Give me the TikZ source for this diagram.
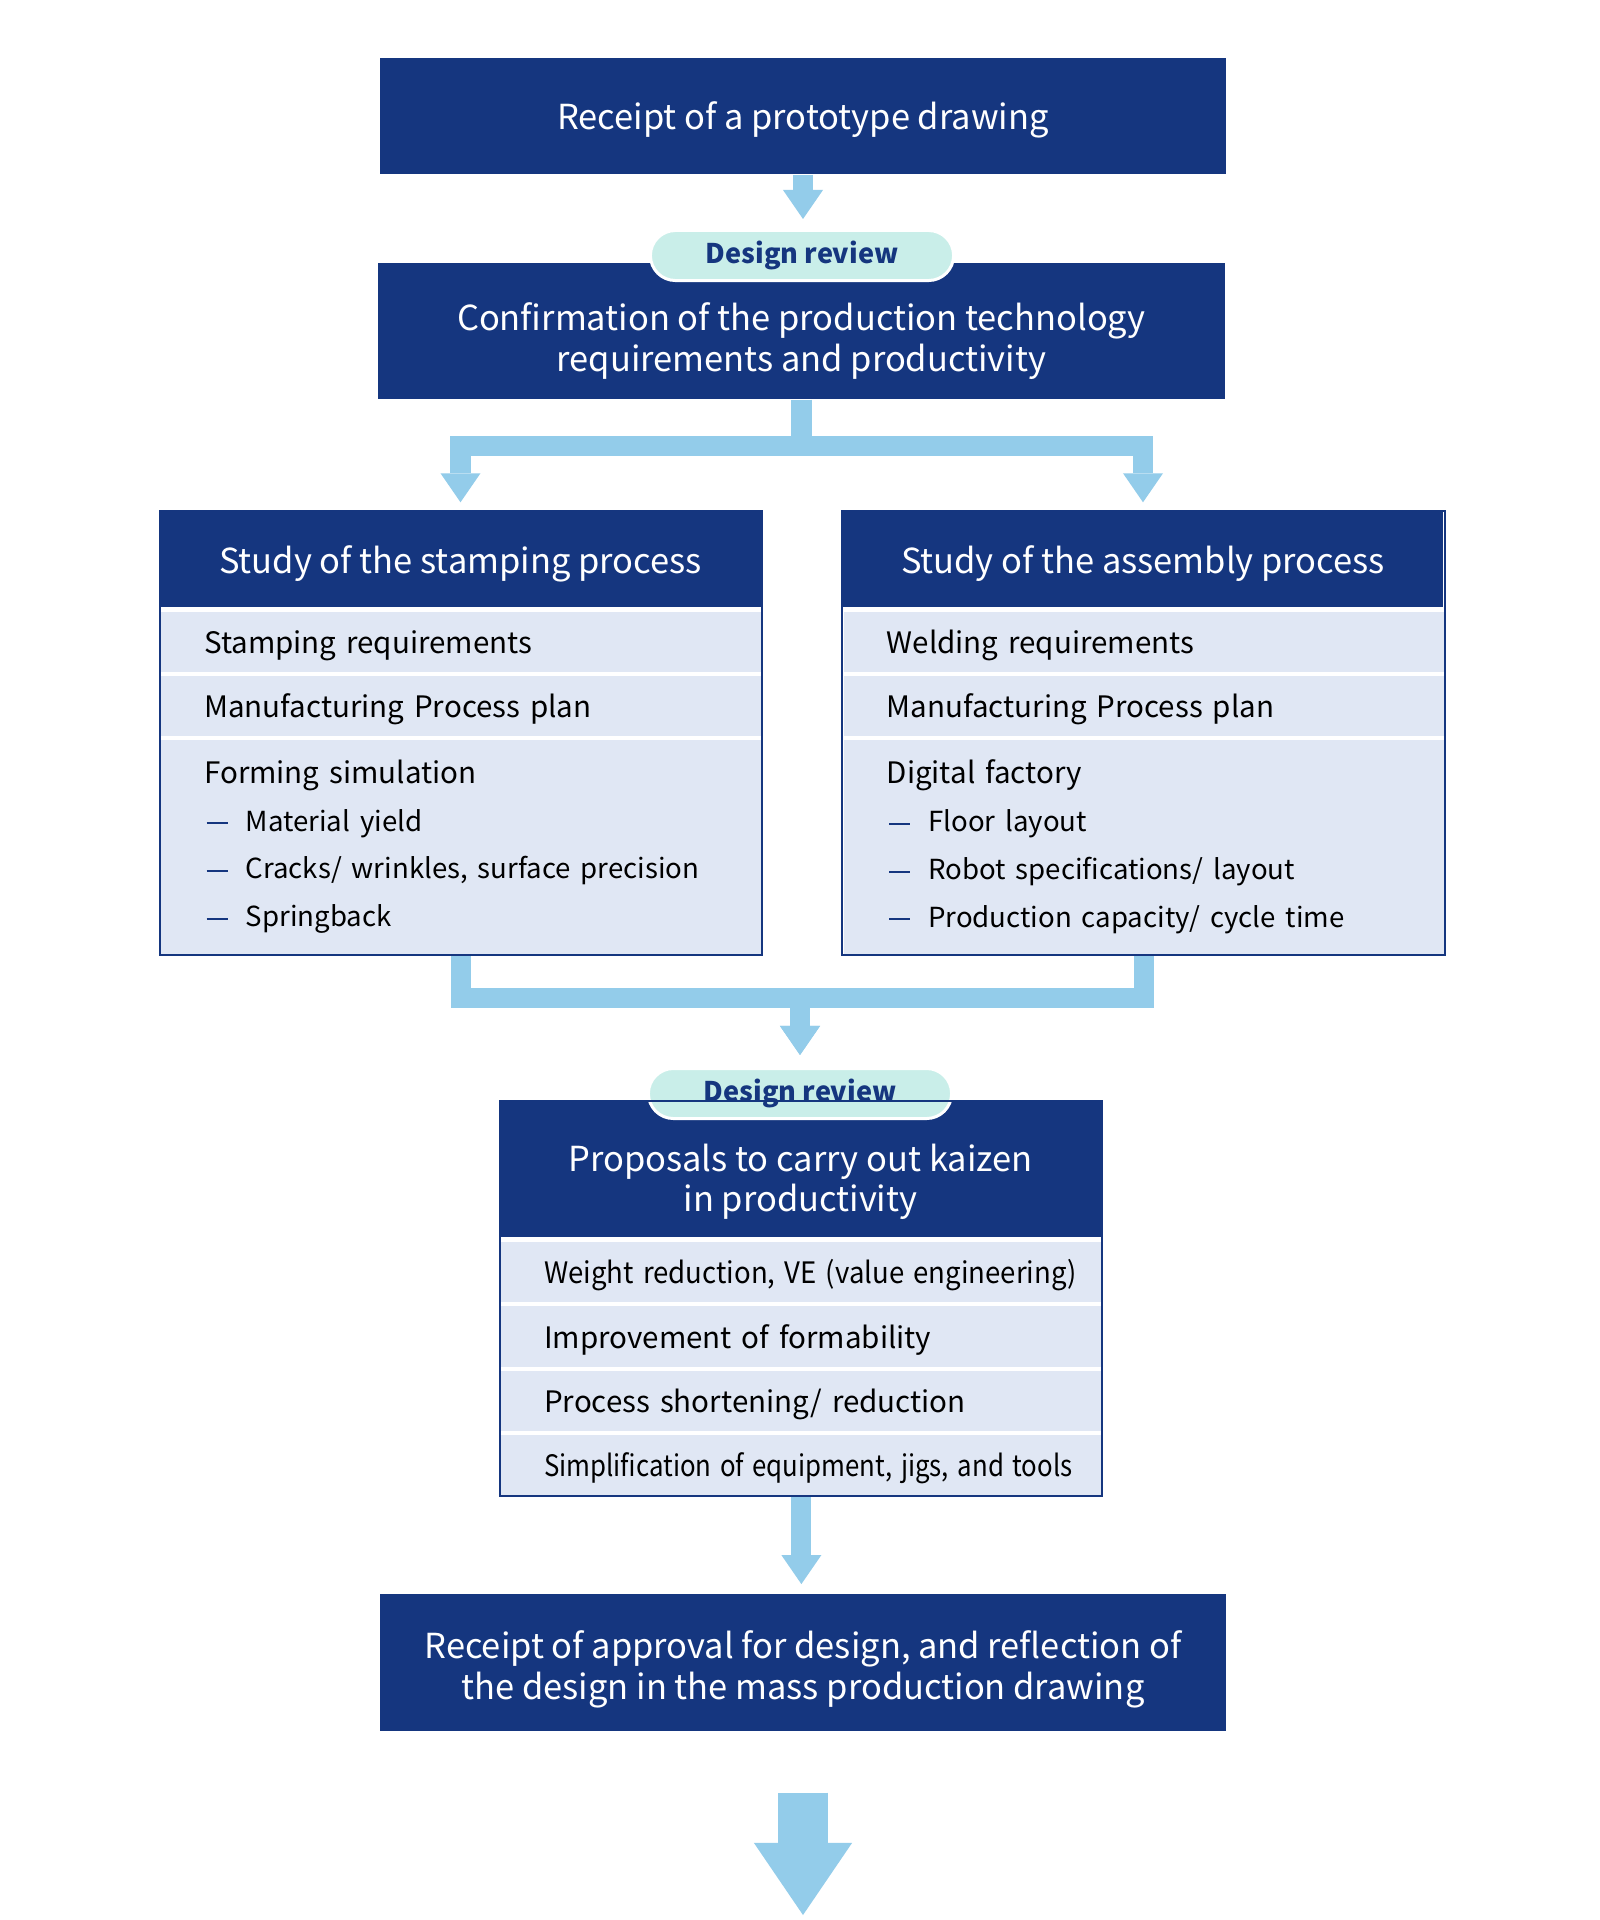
\documentclass[tikz,border=0pt]{standalone}
\usepackage{fontspec}
\usepackage{graphicx}
\setmainfont{Noto Sans CJK JP}
\usetikzlibrary{arrows.meta}

\definecolor{navy}{HTML}{15367F}
\definecolor{skyflow}{HTML}{93CCEA}
\definecolor{rowfill}{HTML}{E0E7F4}
\definecolor{pillfill}{HTML}{C9EEE9}

\newcommand{\boxfont}{\fontsize{9.8}{11.7}\selectfont}
\newcommand{\headfont}{\fontsize{9.8}{11.5}\selectfont}
\newcommand{\rowfont}{\fontsize{8.4}{13.6}\selectfont}
\newcommand{\subfont}{\fontsize{7.85}{13.6}\selectfont}
\newcommand{\padtop}[1]{\rule{0pt}{#1}}
\newcommand{\dashitem}[1]{\hspace*{0.025cm}\textcolor{navy}{\rule[0.23em]{0.21cm}{0.02cm}}\hspace{0.18cm}{\subfont #1}}

\tikzset{
  mainbox/.style={fill=navy, text=white, minimum width=8.46cm, minimum height=1.16cm,
    inner sep=0pt, align=center, font=\boxfont},
  headbox/.style={fill=navy, text=white, minimum width=6cm, minimum height=0.95cm,
    inner sep=0pt, align=center, font=\headfont},
  rowitem/.style={fill=rowfill, text=black, anchor=north west, inner xsep=0.43cm,
    inner ysep=0pt, text width=5.14cm, align=left, font=\rowfont},
  reviewpill/.style={fill=pillfill, draw=white, line width=0.03cm, rounded corners=0.25cm,
    minimum width=3.03cm, minimum height=0.50cm, inner sep=0pt, text=navy,
    font=\fontsize{7.7}{9}\selectfont\bfseries},
  boxline/.style={draw=navy, line width=0.02cm},
  flow/.style={draw=skyflow, line width=0.2cm,
    -{Triangle[width=0.4cm,length=0.29cm,line width=0pt]}},
  bigflow/.style={draw=skyflow, line width=0.49cm,
    -{Triangle[width=0.98cm,length=0.72cm,line width=0pt]}}
}

\begin{document}
\begin{tikzpicture}[x=0.01cm,y=-0.01cm,line join=miter]
\fill[white] (0,0) rectangle (1600,1920);
\useasboundingbox (0,0) rectangle (1600,1920);

% upper boxes
\node[mainbox] (receipt) at (803,116) {\padtop{0.35cm}Receipt of a prototype drawing};
\node[mainbox, minimum height=1.36cm] (confirm) at (801.5,331)
  {\padtop{0.48cm}Confirmation of the production technology\\requirements and productivity};
\node[reviewpill] (review1) at (802,255.5) {Design review};

% stamping process
\node[headbox] (sthead) at (460.5,559.5) {\padtop{0.37cm}Study of the stamping process};
\node[rowitem, minimum height=0.60cm] (strow1) at (160.5,611) {\padtop{0.31cm}Stamping requirements};
\node[rowitem, minimum height=0.60cm] (strow2) at (160.5,675) {\padtop{0.31cm}Manufacturing Process plan};
\node[rowitem, minimum height=2.14cm] (strow3) at (160.5,739)
  {Forming simulation\\\dashitem{Material yield}\\\dashitem{Cracks/ wrinkles, surface precision}\\\dashitem{Springback}};

% assembly process
\node[headbox] (ashead) at (1143,559.5) {\padtop{0.37cm}Study of the assembly process};
\node[rowitem, minimum height=0.60cm] (asrow1) at (843,611) {\padtop{0.31cm}Welding requirements};
\node[rowitem, minimum height=0.60cm] (asrow2) at (843,675) {\padtop{0.31cm}Manufacturing Process plan};
\node[rowitem, minimum height=2.14cm] (asrow3) at (843,739)
  {Digital factory\\\dashitem{Floor layout}\\\dashitem{Robot specifications/ layout}\\\dashitem{Production capacity/ cycle time}};

% kaizen proposals
\node[headbox, minimum height=1.35cm] (prhead) at (800.5,1169.5)
  {\padtop{0.52cm}Proposals to carry out kaizen\\in productivity};
\node[rowitem, minimum height=0.605cm] (prrow1) at (500.5,1241)
  {\padtop{0.30cm}\resizebox{5.32cm}{\height}{Weight reduction, VE (value engineering)}};
\node[rowitem, minimum height=0.605cm] (prrow2) at (500.5,1305.5) {\padtop{0.30cm}Improvement of formability};
\node[rowitem, minimum height=0.605cm] (prrow3) at (500.5,1370) {\padtop{0.30cm}Process shortening/ reduction};
\node[rowitem, minimum height=0.605cm] (prrow4) at (500.5,1434.5)
  {\padtop{0.30cm}\resizebox{5.28cm}{\height}{Simplification of equipment, jigs, and tools}};
\node[reviewpill] (review2) at (800,1093.5) {Design review};

% final box
\node[mainbox, minimum height=1.37cm] (approval) at (803,1662.3)
  {\padtop{0.42cm}Receipt of approval for design, and reflection of\\the design in the mass production drawing};
\coordinate (splitbar) at (801.5,446);
\coordinate (mergebar) at (800,998);
\coordinate (finaltip) at (802,1915);

% arrows
\draw[flow, shorten >=0.10cm] (receipt.south) -- (receipt.south |- review1.north);
\draw[flow, shorten >=0.09cm] (confirm.south) -- (splitbar) -| (sthead.north);
\draw[flow, shorten >=0.09cm] (confirm.south) -- (splitbar) -| (ashead.north);
\draw[flow, shorten >=0.12cm] (strow3.south) |- (mergebar) -- (review2.north);
\draw[flow, shorten >=0.12cm] (asrow3.south) |- (mergebar) -- (review2.north);
\draw[flow, shorten >=0.09cm] (prrow4.south) -- (prrow4.south |- approval.north);
\draw[bigflow, shorten <=0.61cm] (approval.south) -- (approval.south |- finaltip);

% outlines
\draw[boxline] (sthead.north west) rectangle (strow3.south east);
\draw[boxline] (ashead.north west) rectangle (asrow3.south east);
\draw[boxline] (prhead.north west) rectangle (prrow4.south east);
\end{tikzpicture}
\end{document}
